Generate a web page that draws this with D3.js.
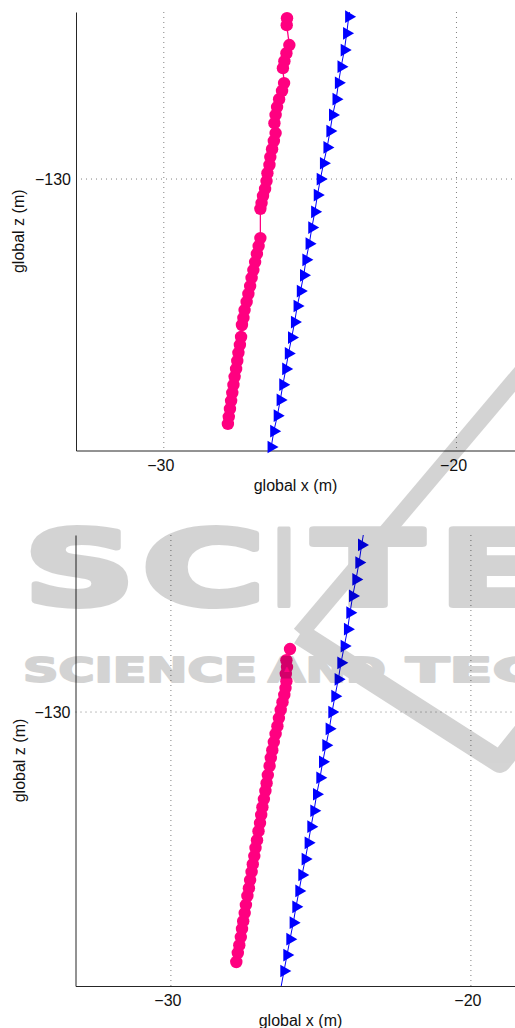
<!DOCTYPE html>
<html>
<head>
<meta charset="utf-8">
<script src="https://cdn.jsdelivr.net/npm/d3@7"></script>
<style>
  body { margin: 0; background: #fff; }
  svg { display: block; font-family: "Liberation Sans", Arial, sans-serif; }
  .grid line { stroke: #808080; stroke-width: 1; stroke-dasharray: 1,4; }
  .axis path { stroke: #262626; stroke-width: 1; }
  .axis text { font-size: 16px; fill: #111; }
  .axis-label { font-size: 16px; fill: #111; }
</style>
</head>
<body>
<svg id="chart" width="515" height="1028"></svg>
<script>
// tick values (metres)
const xTicks = [-30, -20];
const zTicks = [-130];

// top panel: tracked points (pink) and reference path (blue)
const pinkX1 = [-25.79, -25.80,
  -25.71, -25.81, -25.88, -25.93,
  -25.89, -25.96, -26.06, -26.13, -26.18, -26.22,
  -26.18, -26.24, -26.30, -26.36, -26.39, -26.46, -26.49, -26.54, -26.61, -26.66, -26.70,
  -26.70, -26.76, -26.82, -26.88, -26.94, -27.00, -27.05, -27.11, -27.17, -27.24, -27.28, -27.33,
  -27.36, -27.40, -27.45, -27.49, -27.53, -27.58, -27.62, -27.66, -27.70, -27.74, -27.78, -27.81];
const pinkZ1 = [-124.50, -124.74,
  -125.42, -125.70, -125.97, -126.21,
  -126.72, -126.99, -127.27, -127.54, -127.81, -128.09,
  -128.43, -128.70, -128.98, -129.25, -129.52, -129.80, -130.07, -130.34, -130.58, -130.82, -131.02,
  -132.02, -132.29, -132.56, -132.84, -133.11, -133.38, -133.66, -133.93, -134.20, -134.48, -134.75, -134.99,
  -135.40, -135.67, -135.94, -136.22, -136.49, -136.76, -137.04, -137.31, -137.58, -137.86, -138.13, -138.37];
const blueX1 = [-23.60, -23.68, -23.75, -23.83, -23.94, -24.03, -24.11, -24.23, -24.32, -24.42, -24.54,
  -24.65, -24.75, -24.84, -24.94, -25.03, -25.14, -25.22, -25.33, -25.44, -25.53,
  -25.63, -25.74, -25.83, -25.93, -26.02, -26.12, -26.24, -26.33, -26.42];
const blueZ1 = [-123.90, -124.45, -125.02, -125.59, -126.16, -126.71, -127.27, -127.81, -128.36, -128.92, -129.46,
  -130.00, -130.55, -131.12, -131.66, -132.21, -132.76, -133.29, -133.83, -134.34, -134.89,
  -135.42, -135.96, -136.49, -137.03, -137.55, -138.09, -138.62, -139.16, -139.72];

// bottom panel
const pinkX2 = [-26.03, -26.15, -26.13, -26.17, -26.15, -26.18, -26.22,
  -26.28, -26.34, -26.40, -26.45, -26.51, -26.57, -26.62, -26.67, -26.71, -26.77, -26.81,
  -26.85, -26.90, -26.95, -26.99, -27.03, -27.08, -27.13, -27.18, -27.22, -27.27, -27.31,
  -27.36, -27.40, -27.45, -27.50, -27.54, -27.59, -27.63, -27.67, -27.72, -27.77, -27.82];
const pinkZ2 = [-127.90, -128.27, -128.50, -128.73, -128.97, -129.20, -129.43,
  -129.67, -129.93, -130.20, -130.47, -130.73, -131.00, -131.27, -131.53, -131.80, -132.10, -132.37,
  -132.63, -132.90, -133.17, -133.43, -133.70, -133.97, -134.27, -134.53, -134.80, -135.07, -135.33,
  -135.60, -135.87, -136.13, -136.43, -136.70, -136.97, -137.23, -137.50, -137.77, -138.03, -138.33];
const blueX2 = [-23.55, -23.64, -23.73, -23.83, -23.94, -24.03, -24.11, -24.22, -24.33, -24.42, -24.53,
  -24.63, -24.72, -24.83, -24.94, -25.03, -25.14, -25.23, -25.33, -25.42, -25.52,
  -25.63, -25.73, -25.83, -25.92, -26.03, -26.13, -26.23, -26.33];
const blueZ2 = [-123.87, -124.43, -125.02, -125.58, -126.13, -126.69, -127.24, -127.80, -128.36, -128.91, -129.47,
  -130.00, -130.56, -131.11, -131.66, -132.19, -132.74, -133.29, -133.82, -134.36, -134.90,
  -135.43, -135.96, -136.49, -137.02, -137.57, -138.10, -138.63, -139.17];

const PINK = '#ff0080', BLUE = '#0000ff';

const panels = [
  {id: 'p1', px: pinkX1, pz: pinkZ1, bx: blueX1, bz: blueZ1,
   xDom: [-33, -18], xRange: [76, 515], zDom: [-139.28, -124.29], zRange: [450.5, 12], yLabelX: 23.5},
  {id: 'p2', px: pinkX2, pz: pinkZ2, bx: blueX2, bz: blueZ2,
   xDom: [-33.18, -18.18], xRange: [75.5, 525.5], zDom: [-139.13, -124.1], zRange: [986, 535], yLabelX: 24.5}
];

const svg = d3.select('#chart');
svg.append('rect').attr('width', 515).attr('height', 1028).attr('fill', '#fff');

panels.forEach(p => drawPanel(p));
drawWatermark();

function drawPanel(p){
  const x = d3.scaleLinear().domain(p.xDom).range(p.xRange);
  const z = d3.scaleLinear().domain(p.zDom).range(p.zRange);
  const [left, right] = p.xRange;
  const [bottom, top] = p.zRange;
  const g = svg.append('g');

  g.append('clipPath').attr('id', 'clip-' + p.id)
    .append('rect').attr('x', left).attr('y', top).attr('width', right - left).attr('height', bottom - top);

  // dotted grid
  const grid = g.append('g').attr('class', 'grid');
  grid.selectAll('.vx').data(xTicks).enter().append('line')
    .attr('x1', d => x(d)).attr('x2', d => x(d)).attr('y1', top).attr('y2', bottom);
  grid.selectAll('.hz').data(zTicks).enter().append('line')
    .attr('x1', left).attr('x2', right).attr('y1', d => z(d)).attr('y2', d => z(d));

  // axes
  const xAxis = g.append('g').attr('class', 'axis').attr('transform', 'translate(0,' + bottom + ')')
    .call(d3.axisBottom(x).tickValues(xTicks).tickSize(0).tickPadding(9).tickFormat(d3.format('d')));
  xAxis.selectAll('text').attr('dx', -3.5);
  g.append('g').attr('class', 'axis').attr('transform', 'translate(' + left + ',0)')
    .call(d3.axisLeft(z).tickValues(zTicks).tickSize(0).tickPadding(5).tickFormat(d3.format('d')));
  g.selectAll('.axis .domain').attr('fill', 'none');

  g.append('text').attr('class', 'axis-label').attr('text-anchor', 'middle')
    .attr('x', (left + right) / 2).attr('y', bottom + 40).text('global x (m)');
  g.append('text').attr('class', 'axis-label').attr('text-anchor', 'middle')
    .attr('transform', 'translate(' + p.yLabelX + ',' + ((top + bottom) / 2) + ') rotate(-90)')
    .text('global z (m)');

  const inside = (xv, zv) => xv >= p.xDom[0] && xv <= p.xDom[1] && zv >= p.zDom[0] && zv <= p.zDom[1];

  // pink series
  const pink = p.px.map((v, i) => ({x: v, z: p.pz[i]}));
  const line = d3.line().x(d => x(d.x)).y(d => z(d.z));
  g.append('path').datum(pink).attr('d', line).attr('fill', 'none')
    .attr('stroke', PINK).attr('stroke-width', 1.3).attr('clip-path', 'url(#clip-' + p.id + ')');
  g.selectAll('.dot').data(pink.filter(d => inside(d.x, d.z))).enter().append('circle')
    .attr('cx', d => x(d.x)).attr('cy', d => z(d.z)).attr('r', 6.2).attr('fill', PINK);

  // blue series
  const blue = p.bx.map((v, i) => ({x: v, z: p.bz[i]}));
  g.append('path').datum(blue).attr('d', line).attr('fill', 'none')
    .attr('stroke', BLUE).attr('stroke-width', 1).attr('clip-path', 'url(#clip-' + p.id + ')');
  const tri = d3.symbol().type(d3.symbolTriangle).size(70);
  g.selectAll('.tri').data(blue.filter(d => inside(d.x, d.z))).enter().append('path')
    .attr('d', tri).attr('fill', BLUE)
    .attr('transform', d => 'translate(' + x(d.x) + ',' + z(d.z) + ') rotate(90)');
}

// faint publisher watermark laid over the figure
function drawWatermark(){
  const wm = svg.append('g').attr('opacity', 0.17).attr('fill', '#000')
    .attr('stroke', '#000').attr('stroke-linejoin', 'round');
  const big = [['S', 24, 111], ['C', 142, 123], ['I', 274, 20], ['T', 313, 110], ['E', 439, 106]];
  big.forEach(([ch, x0, w]) => {
    wm.append('text').attr('x', x0).attr('y', 605).attr('textLength', w).attr('lengthAdjust', 'spacingAndGlyphs')
      .attr('stroke-width', 6)
      .style('font-family', 'DejaVu Sans').style('font-weight', 'bold').style('font-size', '104px').text(ch);
  });
  const small = [['SCIENCE', 23, 234], ['AND', 268, 118], ['TEC', 406, 133]];
  small.forEach(([s, x0, w]) => {
    wm.append('text').attr('x', x0).attr('y', 682).attr('textLength', w).attr('lengthAdjust', 'spacingAndGlyphs')
      .attr('stroke-width', 2)
      .style('font-family', 'DejaVu Sans').style('font-weight', 'bold').style('font-size', '34px').text(s);
  });
  wm.append('path').attr('d', 'M560,326L300,634').attr('stroke-width', 16).attr('fill', 'none');
  wm.append('path').attr('d', 'M300,634L500,762L540,712').attr('stroke-width', 22).attr('fill', 'none');
}
</script>
</body>
</html>
